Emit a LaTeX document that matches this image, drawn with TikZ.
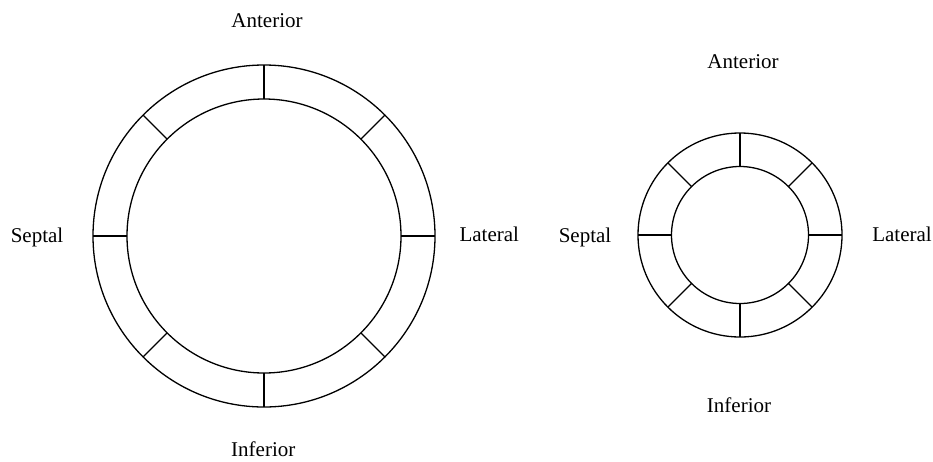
\documentclass[tikz,border=0pt]{standalone}
\usepackage{fontspec}
\setmainfont{Liberation Serif}
\usetikzlibrary{calc}
\begin{document}
\begin{tikzpicture}[x=1pt,y=-1pt,
  ring/.style={line width=1.3pt},
  lbl/.style={font=\fontsize{21}{21}\selectfont, inner sep=0pt, anchor=base}]
\useasboundingbox (0,0) rectangle (933,461);
% large ring with eight segments
\coordinate (cL) at (264,236);
\draw[ring] (cL) circle[radius=171];
\draw[ring] (cL) circle[radius=137];
\foreach \a in {0,45,...,315}
  \draw[ring] ($(cL)+(\a:137)$) -- ($(cL)+(\a:171)$);
% small ring with eight segments
\coordinate (cR) at (740,235);
\draw[ring] (cR) circle[radius=102];
\draw[ring] (cR) circle[radius=68.5];
\foreach \a in {0,45,...,315}
  \draw[ring] ($(cR)+(\a:68.5)$) -- ($(cR)+(\a:102)$);
% labels (placed by baseline)
\node[lbl] (antL) at (267,27.3) {Anterior};
\node[lbl] (infL) at (263.3,456.5) {Inferior};
\node[lbl] (sepL) at (37,242.3) {Septal};
\node[lbl] (latL) at (489.3,241.7) {Lateral};
\node[lbl] (antR) at (743,68.3) {Anterior};
\node[lbl] (infR) at (739,412.3) {Inferior};
\node[lbl] (sepR) at (585,242.3) {Septal};
\node[lbl] (latR) at (902,241.7) {Lateral};
\end{tikzpicture}
\end{document}
